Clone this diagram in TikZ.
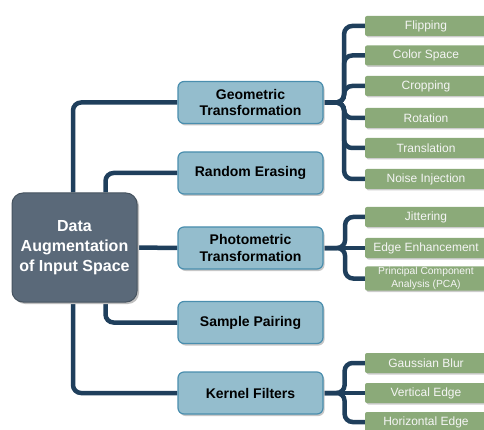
\documentclass[tikz,border=0pt]{standalone}
\usepackage{fontspec}
\setmainfont{Liberation Sans}
\usetikzlibrary{shadows,backgrounds}
\definecolor{conncol}{HTML}{1F3F5C}
\definecolor{rootfill}{HTML}{5A6979}
\definecolor{rootline}{HTML}{46535F}
\definecolor{midfill}{HTML}{94BDCD}
\definecolor{midline}{HTML}{4A8EAE}
\definecolor{leaffill}{HTML}{8BAA79}
\begin{document}
\begin{tikzpicture}[x=1pt,y=-1pt,
  conn/.style={draw=conncol, line width=4.5pt, rounded corners=8pt},
  rootbox/.style={rectangle, rounded corners=11pt, fill=rootfill, draw=rootline, line width=1pt,
    minimum width=125pt, minimum height=109pt, align=center, text=white,
    font=\fontsize{16}{20}\selectfont\bfseries,
    drop shadow={shadow xshift=2pt, shadow yshift=-2pt, fill=black!25, opacity=1}},
  midbox/.style={rectangle, rounded corners=6pt, fill=midfill, draw=midline, line width=1.2pt,
    minimum width=145pt, minimum height=42pt, align=center, text=black,
    font=\fontsize{14}{16.5}\selectfont\bfseries,
    drop shadow={shadow xshift=1.5pt, shadow yshift=-2pt, fill=black!22, opacity=1}},
  leafbox/.style={rectangle, rounded corners=2pt, fill=leaffill, minimum width=122pt,
    minimum height=20pt, align=center, text=white!96!black, inner sep=1pt,
    font=\fontsize{12}{14}\selectfont,
    drop shadow={shadow xshift=1.5pt, shadow yshift=-1.5pt, fill=black!20, opacity=1}}]
\useasboundingbox (0,0) rectangle (484,430);
\clip (0,0) rectangle (484,430);

% nodes
\node[rootbox] (root) at (74.5,247.5) {Data\\Augmentation\\of Input Space};

\node[midbox] (geo) at (250.5,102.5) {Geometric\\Transformation};
\node[midbox] (re)  at (250.5,173) {Random Erasing};
\node[midbox] (pt)  at (250.5,248) {Photometric\\Transformation};
\node[midbox] (sp)  at (250.5,322.5) {Sample Pairing};
\node[midbox] (kf)  at (250.5,393) {Kernel Filters};

\node[leafbox] (l1) at (426,26) {Flipping};
\node[leafbox] (l2) at (426,55.5) {Color Space};
\node[leafbox] (l3) at (426,86) {Cropping};
\node[leafbox] (l4) at (426,118) {Rotation};
\node[leafbox] (l5) at (426,148) {Translation};
\node[leafbox] (l6) at (426,179) {Noise Injection};

\node[leafbox] (p1) at (426,217) {Jittering};
\node[leafbox] (p2) at (426,248) {Edge Enhancement};
\node[leafbox, minimum height=23pt, font=\fontsize{10.3}{12.5}\selectfont] (p3) at (426,278.5) {Principal Component\\Analysis (PCA)};

\node[leafbox] (k1) at (426,363) {Gaussian Blur};
\node[leafbox] (k2) at (426,393) {Vertical Edge};
\node[leafbox] (k3) at (426,422) {Horizontal Edge};

% connectors (behind)
\begin{pgfonlayer}{background}
  \draw[conn] ([xshift=-1.5pt]root.north) |- (geo.west);
  \draw[conn] ([xshift=31pt]root.north) |- (re.west);
  \draw[conn] (root.east) -- (pt.west);
  \draw[conn] ([xshift=31pt]root.south) |- (sp.west);
  \draw[conn] ([xshift=-1.5pt]root.south) |- (kf.west);
  \foreach \l in {l1,l2,l3,l4,l5,l6}
    \draw[conn] (geo.east) -- ++(20.5,0) |- (\l.west);
  \foreach \l in {p1,p3}
    \draw[conn] (pt.east) -- ++(21.5,0) |- (\l.west);
  \draw[conn] (pt.east) -- (p2.west);
  \foreach \l in {k1,k3}
    \draw[conn] (kf.east) -- ++(21,0) |- (\l.west);
  \draw[conn] (kf.east) -- (k2.west);
\end{pgfonlayer}
\end{tikzpicture}
\end{document}
